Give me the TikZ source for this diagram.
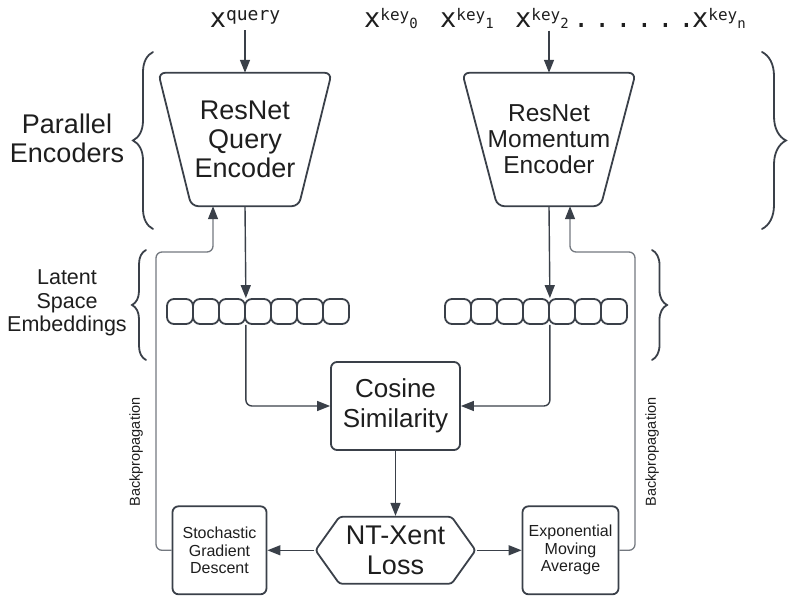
\documentclass[tikz,border=0pt]{standalone}
\usepackage{fontspec}
\setmainfont{Liberation Sans}
\newfontfamily\monofont{DejaVu Sans Mono}
\usetikzlibrary{positioning,calc,arrows.meta,shapes.symbols,decorations.pathreplacing}

\definecolor{linec}{HTML}{3A4049}
\definecolor{fbc}{HTML}{73787F}
\definecolor{txtc}{HTML}{1E1E1E}

\newcommand{\fsz}[2]{\fontsize{#1}{#2}\selectfont}
\newcommand{\xkey}[1]{x\raisebox{7pt}{\fsz{16}{16}key\raisebox{-7.5pt}{\fsz{14}{14}#1}}}

\tikzset{
  box/.style={draw=linec, line width=1.8pt, rounded corners=6pt, align=center, text=txtc, inner sep=2pt},
  enc/.style={align=center, text=txtc, minimum width=173pt, minimum height=133pt},
  encline/.style={draw=linec, line width=1.8pt, rounded corners=7pt},
  emb/.style={draw=linec, line width=1.8pt, rounded corners=7pt, minimum width=26pt, minimum height=25pt, inner sep=0pt},
  arr/.style={draw=linec, line width=1.4pt, -{Triangle[length=13pt,width=10pt]}},
  fb/.style={draw=fbc, line width=1.3pt, rounded corners=6pt, -{Triangle[length=13pt,width=10pt,color=linec]}},
  grp/.style={draw=linec, line width=1.8pt, line cap=round, decorate, decoration={brace, amplitude=#1}},
  grp/.default=18pt,
  side/.style={align=center, text=txtc},
  inp/.style={inner sep=0pt, font=\monofont\fsz{27}{27}, text=txtc}
}

\begin{document}
\begin{tikzpicture}[x=1pt, y=1pt]
    \useasboundingbox (0,0) rectangle (795,602);

    \node [inp, anchor=base] (QX) at (245,574) {x\raisebox{7pt}{\fsz{18}{18}query}};
    \node [inp, anchor=base west] (KX0) at (364,574) {\xkey{0}};
    \node [inp, anchor=base west] (KX1) at (440,574) {\xkey{1}};
    \node [inp, anchor=base west] (KX2) at (515,574) {\xkey{2}};
    \node [inp, anchor=base west] (DOTS) at (573,574) {.\kern4.8pt.\kern4.8pt.\kern4.8pt.\kern4.8pt.\kern4.8pt.};
    \node [inp, anchor=base west] (KXN) at (692,574) {\xkey{n}};

    \node [enc, font=\fsz{27}{29}] (Q) at (245,462.5) {ResNet\\Query\\Encoder};
    \node [enc, font=\fsz{24.5}{26}] (K) at (549,462.5) {ResNet\\Momentum\\Encoder};
    \draw [encline] (Q.north west) -- (Q.north east) -- ($(Q.south east)+(-33,0)$) -- ($(Q.south west)+(33,0)$) -- cycle;
    \draw [encline] (K.north west) -- (K.north east) -- ($(K.south east)+(-35,0)$) -- ($(K.south west)+(35,0)$) -- cycle;

    \foreach \i in {1,...,7} {
        \node [emb] (Q\i) at ({154+26*\i},290.5) {};
        \node [emb] (K\i) at ({432+26*\i},290.5) {};
    }

    \node [box, minimum width=129pt, minimum height=88pt, font=\fsz{26}{30}] (CS) at (395.5,196) {Cosine\\Similarity};
    \node [box, signal, signal to=west and east, signal pointer angle=109, rounded corners=3pt,
        minimum width=160pt, minimum height=67pt, font=\fsz{27}{30}, below=65pt of CS] (NT) {NT-Xent\\Loss};
    \node [box, minimum width=94pt, minimum height=88pt, font=\fsz{16}{17.5}, left=47pt of NT] (SGD) {Stochastic\\Gradient\\Descent};
    \node [box, minimum width=96pt, minimum height=88pt, font=\fsz{16}{17.5}, right=45pt of NT] (EMA) {Exponential\\Moving\\Average};

    \node [side, font=\fsz{27}{29}] (PE) at (67,464) {Parallel\\Encoders};
    \node [side, font=\fsz{21.5}{23.5}] (LSE) at (67,299) {Latent\\Space\\Embeddings};
    \node [side, rotate=90, font=\fsz{14.5}{14.5}] (BPL) at (136,150) {Backpropagation};
    \node [side, rotate=90, font=\fsz{14.5}{14.5}] (BPR) at (652,150) {Backpropagation};

    \coordinate (LT) at (156,350);
    \coordinate (RT) at (635,350);

    \draw [arr, shorten <=2pt] (QX.south) -- (Q.north);
    \draw [arr, shorten <=2pt] (KX2.south -| K.north) -- (K.north);
    \draw [arr] (Q.south) -- (Q3.north east);
    \draw [arr] (K.south) -- (K4.north east);
    \draw [arr, rounded corners=6pt] (Q3.south east) |- (CS.west);
    \draw [arr, rounded corners=6pt] (K4.south east) |- (CS.east);
    \draw [arr] (CS.south) -- (NT.north);
    \draw [arr] (NT.west) -- (SGD.east);
    \draw [arr] (NT.east) -- (EMA.west);
    \draw [fb] (SGD.west) -| (LT) -| ($(Q.south)+(-32,0)$);
    \draw [fb] (EMA.east) -| (RT) -| ($(K.south)+(21,0)$);

    \draw [grp=20pt] (153,373) -- (153,550);
    \draw [grp=14pt] (146,242) -- (146,352);
    \draw [grp=24pt] (762,550) -- (762,373);
    \draw [grp=15pt] (652,352) -- (652,242);
\end{tikzpicture}
\end{document}
